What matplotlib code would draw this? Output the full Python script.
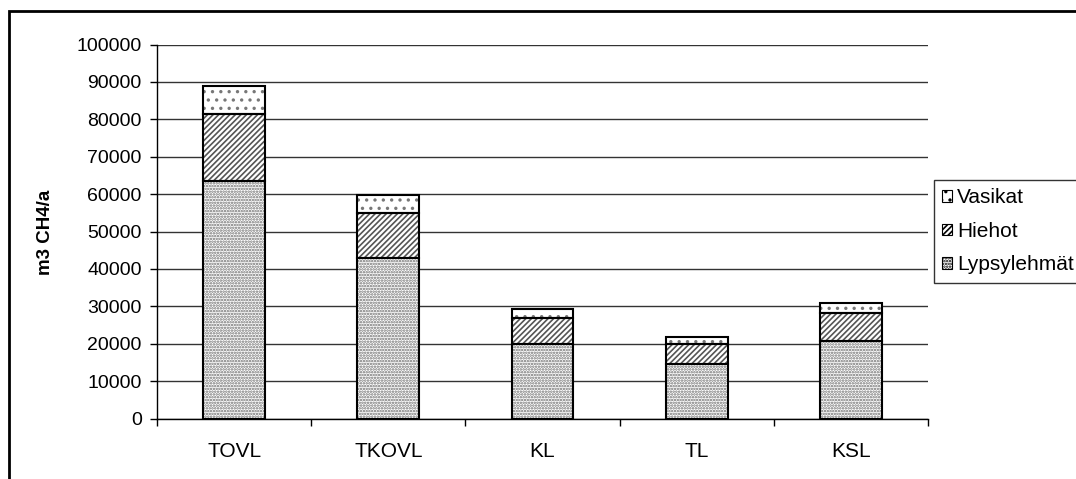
import matplotlib
matplotlib.use("Agg")
import matplotlib.pyplot as plt
from matplotlib.patches import Patch, Rectangle
import numpy as np

plt.rcParams["font.family"] = ["Liberation Sans", "DejaVu Sans"]
plt.rcParams["hatch.linewidth"] = 1.2

# methane emissions per farm type (m3 CH4/a)
farms = ["TOVL", "TKOVL", "KL", "TL", "KSL"]
lypsylehmat = [63600, 42800, 20000, 14600, 20800]
hiehot = [17900, 12200, 6900, 5300, 7500]
vasikat = [7300, 4700, 2500, 1800, 2500]

series = [
    ("Lypsylehmät", lypsylehmat, "......", "#6e6e6e"),
    ("Hiehot", hiehot, "//////", "#555555"),
    ("Vasikat", vasikat, "..", "#777777"),
]

W, H = 1076, 479
fig = plt.figure(figsize=(W / 100, H / 100), dpi=100)
ax = fig.add_axes([157 / W, 1 - 418.5 / H, (928 - 157) / W, (418.5 - 44.5) / H])

x = np.arange(len(farms))
width = 0.40
bottom = np.zeros(len(farms))
handles = []
for name, vals, hatch, hcol in series:
    vals = np.array(vals, dtype=float)
    # hatch layer, then a separate black outline on top
    ax.bar(x, vals, width, bottom=bottom, color="white", edgecolor=hcol,
           hatch=hatch, linewidth=0, zorder=2)
    ax.bar(x, vals, width, bottom=bottom, fill=False, edgecolor="black",
           linewidth=1.5, zorder=3)
    handles.append(Patch(facecolor="white", edgecolor="black", hatch=hatch,
                         linewidth=0.8, label=name))
    bottom += vals

ax.set_xlim(-0.5, len(farms) - 0.5)
ax.set_ylim(0, 100000)
ax.set_yticks(np.arange(0, 100001, 10000))
ax.yaxis.grid(True, color="#333333", linewidth=1.0)
ax.set_axisbelow(True)

ax.set_xticks(np.arange(-0.5, len(farms), 1.0))
ax.set_xticklabels([])
ax.set_xticks(x, minor=True)
ax.set_xticklabels(farms, minor=True, fontsize=15)
ax.tick_params(axis="x", which="minor", length=0, pad=17)
ax.tick_params(axis="x", which="major", direction="out", length=5, width=1)
ax.tick_params(axis="y", direction="out", length=5, width=1, labelsize=14, pad=6)

for s in ("top", "right"):
    ax.spines[s].set_visible(False)
for s in ("left", "bottom"):
    ax.spines[s].set_linewidth(1.0)

fig.text(45 / W, 1 - 232 / H, "m3 CH4/a", rotation=90, ha="center", va="center",
         fontsize=13.5, fontweight="bold")

leg = fig.legend(handles=handles[::-1], loc="upper left",
                 bbox_to_anchor=(934 / W, 1 - 180 / H), borderaxespad=0,
                 fontsize=15, frameon=True, fancybox=False, edgecolor="black",
                 handlelength=0.45, handleheight=0.45, handletextpad=0.25,
                 labelspacing=0.7, borderpad=0.4)
leg.get_frame().set_linewidth(1.0)

# outer chart frame
fig.add_artist(Rectangle((8.5 / W, -0.1), 1.2, 1 - 11 / H + 0.1,
                         transform=fig.transFigure, fill=False,
                         edgecolor="black", linewidth=2))

fig.savefig("out.png", dpi=100)
